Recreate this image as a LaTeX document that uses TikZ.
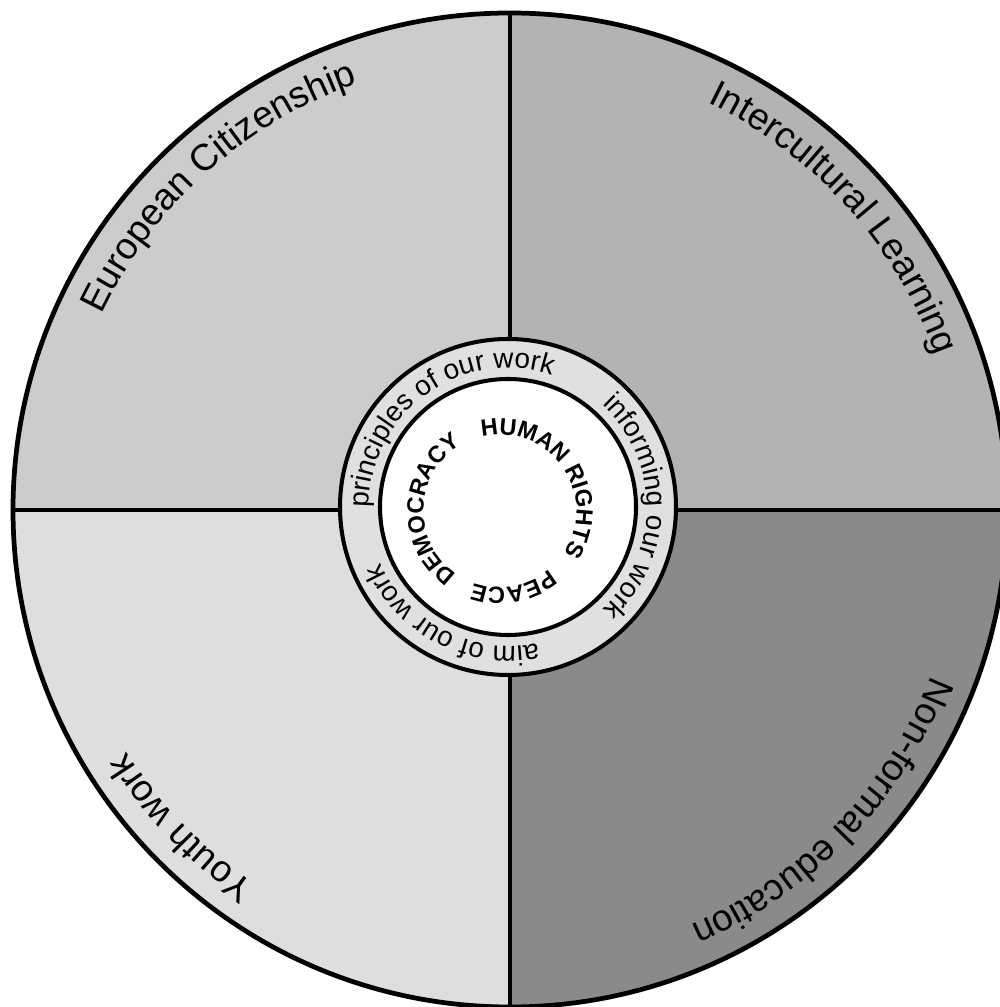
\documentclass[tikz,border=0pt]{standalone}
\usepackage{fontspec}
\setmainfont{Liberation Sans}
\usetikzlibrary{decorations.text}
\definecolor{qtl}{RGB}{204,204,204}
\definecolor{qtr}{RGB}{179,179,179}
\definecolor{qbl}{RGB}{222,222,222}
\definecolor{qbr}{RGB}{138,138,138}
\definecolor{ringgray}{RGB}{224,224,224}
\newcommand{\qfont}{\fontsize{21.2}{25}\selectfont}
\newcommand{\rfont}{\fontsize{15.9}{19}\selectfont}
\newcommand{\ifont}{\fontsize{13.4}{16}\selectfont\bfseries}
\tikzset{
  outerline/.style={line width=2.7pt, black},
  divider/.style={line width=2.1pt, black},
  ringline/.style={line width=2.3pt, black},
  arctext/.style={decorate, decoration={text along path, text align=center, text={#1}}},
}
\begin{document}
\begin{tikzpicture}
\useasboundingbox (0,0) rectangle (20,20.14);
\coordinate (C) at (10.2,9.94);
\coordinate (RC) at (10.16,10.0);
\coordinate (IC) at (10.0,9.92);
\def\R{9.94cm}
\coordinate (top) at (10.2,19.88);
\coordinate (bot) at (10.2,0);
\coordinate (lft) at (0.26,9.94);
\coordinate (rgt) at (20.14,9.94);
% quadrants
\fill[qtl] (C) -- ++(90:\R) arc[start angle=90, end angle=180, radius=\R] -- cycle;
\fill[qtr] (C) -- ++(0:\R) arc[start angle=0, end angle=90, radius=\R] -- cycle;
\fill[qbl] (C) -- ++(180:\R) arc[start angle=180, end angle=270, radius=\R] -- cycle;
\fill[qbr] (C) -- ++(270:\R) arc[start angle=270, end angle=360, radius=\R] -- cycle;
% dividers
\draw[divider] (top) -- (bot);
\draw[divider] (lft) -- (rgt);
\draw[outerline] (C) circle[radius=\R];
% quadrant labels
\def\Q{9.06cm}
\path[arctext={|\qfont|European Citizenship}] (C) ++(202:\Q) arc[start angle=202, end angle=62, radius=\Q];
\path[arctext={|\qfont|Intercultural Learning}] (C) ++(112:\Q) arc[start angle=112, end angle=-28, radius=\Q];
\path[arctext={|\qfont|Non-formal education}] (C) ++(26:\Q) arc[start angle=26, end angle=-114, radius=\Q];
\path[arctext={|\qfont|Youth work}] (C) ++(-66:\Q) arc[start angle=-66, end angle=-206, radius=\Q];
% ring
\draw[ringline, fill=ringgray] (RC) circle[radius=3.36cm];
\draw[ringline, fill=white] (RC) circle[radius=2.56cm];
\def\S{2.78cm}
\path[arctext={|\rfont|principles of our work}] (RC) ++(196:\S) arc[start angle=196, end angle=56, radius=\S];
\path[arctext={|\rfont|informing our work}] (RC) ++(70:\S) arc[start angle=70, end angle=-70, radius=\S];
\path[arctext={|\rfont|aim of our work}] (RC) ++(-47:\S) arc[start angle=-47, end angle=-187, radius=\S];
% inner
\def\I{1.53cm}
\path[arctext={|\ifont|HUMAN RIGHTS}] (IC) ++(110:\I) arc[start angle=110, end angle=-40, radius=\I];
\path[arctext={|\ifont|PEACE}] (IC) ++(-30:\I) arc[start angle=-30, end angle=-130, radius=\I];
\path[arctext={|\ifont|DEMOCRACY}] (IC) ++(243:\I) arc[start angle=243, end angle=113, radius=\I];
\end{tikzpicture}
\end{document}
